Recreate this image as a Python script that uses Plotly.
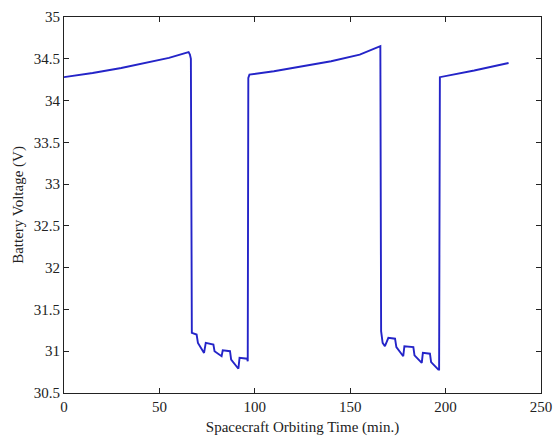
import plotly.graph_objects as go

time_min = [0, 15, 30, 45, 55, 65.3, 66.0, 66.5, 67.0, 69.5, 70.2, 73.4, 74.3, 78.3, 78.9, 82.6, 83.2, 87.0, 87.6, 91.4, 92.0, 96.0, 96.3, 96.6, 97.2,
            110, 125, 140, 155, 165.8, 166.2, 167.0, 168.2, 170.0, 173.5, 174.2, 177.8, 178.4, 183.1, 183.7, 187.5, 188.1, 191.8, 192.4, 196.2, 196.6, 197.0,
            215, 233]
voltage = [34.28, 34.33, 34.39, 34.46, 34.51, 34.58, 34.55, 34.50, 31.22, 31.20, 31.10, 30.98, 31.10, 31.08, 31.00, 30.94, 31.01, 31.00, 30.90, 30.79, 30.92, 30.91, 30.88, 34.27, 34.31,
           34.35, 34.41, 34.47, 34.55, 34.65, 31.24, 31.10, 31.06, 31.16, 31.15, 31.05, 30.94, 31.06, 31.05, 30.95, 30.86, 30.98, 30.97, 30.87, 30.78, 30.78, 34.28,
           34.36, 34.45]

x_ticks = [0, 50, 100, 150, 200, 250]
y_ticks = [30.5, 31, 31.5, 32, 32.5, 33, 33.5, 34, 34.5, 35]
y_tick_text = ["30.5", "31", "31.5", "32", "32.5", "33", "33.5", "34", "34.5", "35"]

fig = go.Figure()
fig.add_trace(go.Scatter(x=time_min, y=voltage, mode="lines",
                         line=dict(color="#2424c8", width=1.9), showlegend=False))

tick_font = dict(family="Liberation Serif, Times New Roman, serif", size=15, color="#222")
title_font = dict(family="Liberation Serif, Times New Roman, serif", size=15, color="#222")
axis_common = dict(showgrid=False, zeroline=False, showline=True, linecolor="#222", linewidth=1.2,
                   mirror="allticks", ticks="inside", ticklen=5, tickcolor="#222", tickfont=tick_font,
                   automargin=False)
fig.update_layout(
    width=554, height=439,
    margin=dict(l=64, r=13, t=17, b=46),
    paper_bgcolor="white", plot_bgcolor="white",
    font=tick_font,
    xaxis=dict(range=[0, 250], tickvals=x_ticks, title=dict(text="Spacecraft Orbiting Time (min.)", font=title_font, standoff=7), **axis_common),
    yaxis=dict(range=[30.5, 35], tickvals=y_ticks, ticktext=y_tick_text, title=dict(text="Battery Voltage (V)", font=title_font, standoff=6), **axis_common),
)
fig.write_html("out.html")
